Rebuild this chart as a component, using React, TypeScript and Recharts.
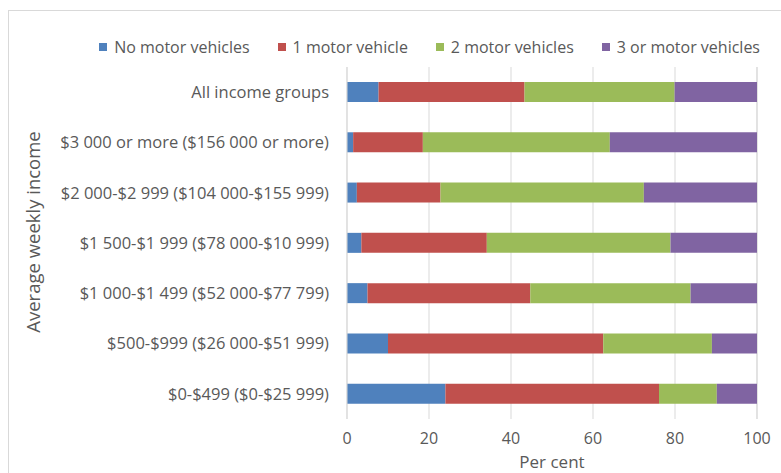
import React from "react";
import { BarChart, Bar, XAxis, YAxis, CartesianGrid } from "recharts";

const categories = [
  "All income groups",
  "$3 000 or more ($156 000 or more)",
  "$2 000-$2 999 ($104 000-$155 999)",
  "$1 500-$1 999 ($78 000-$10 999)",
  "$1 000-$1 499 ($52 000-$77 799)",
  "$500-$999 ($26 000-$51 999)",
  "$0-$499 ($0-$25 999)",
];

const noVehicles = [7.7, 1.5, 2.4, 3.5, 5.0, 10.0, 24.0];
const oneVehicle = [35.6, 17.0, 20.4, 30.6, 39.7, 52.5, 52.1];
const twoVehicles = [36.6, 45.6, 49.6, 44.8, 39.1, 26.5, 14.1];
const threeVehicles = [20.1, 35.9, 27.6, 21.1, 16.2, 11.0, 9.8];

const xTicks = [0, 20, 40, 60, 80, 100];

const SERIES = [
  { key: "none", name: "No motor vehicles", color: "#4F81BD" },
  { key: "one", name: "1 motor vehicle", color: "#C0504D" },
  { key: "two", name: "2 motor vehicles", color: "#9BBB59" },
  { key: "three", name: "3 or motor vehicles", color: "#8064A2" },
];

const data = categories.map((c, i) => ({
  cat: c,
  none: noVehicles[i],
  one: oneVehicle[i],
  two: twoVehicles[i],
  three: threeVehicles[i],
}));

const FONT = "'Open Sans', sans-serif";
const TEXT = "#595959";

// legend sits above the plot, outside the chart's own layout
const LegendBox = () => (
  <div style={{ position: "absolute", top: 36, right: 21, display: "flex", gap: 28, fontFamily: FONT, fontSize: 16, color: TEXT, whiteSpace: "nowrap" }}>
    {SERIES.map((s) => (
      <div key={s.key} style={{ display: "flex", alignItems: "center", gap: 7 }}>
        <span style={{ width: 8, height: 8, background: s.color, display: "inline-block" }} />
        <span>{s.name}</span>
      </div>
    ))}
  </div>
);

const YLabel = () => (
  <text x={32} y={232} transform="rotate(-90 32 232)" textAnchor="middle" dominantBaseline="central" fontSize={18.5} fill={TEXT} fontFamily={FONT}>
    Average weekly income
  </text>
);

export default function App() {
  return (
    <div style={{ position: "absolute", left: 0, top: 0, width: 781, height: 473, background: "#fff", overflow: "hidden" }}>
      <div style={{ position: "absolute", left: 8, top: 10, width: 900, height: 600, border: "1px solid #d9d9d9" }} />
      <BarChart
        width={781}
        height={473}
        data={data}
        layout="vertical"
        barSize={20}
        margin={{ top: 67, right: 24, bottom: 0, left: 0 }}
        style={{ position: "absolute", left: 0, top: 0 }}
      >
        <CartesianGrid horizontal={false} stroke="#d9d9d9" />
        <XAxis
          type="number"
          domain={[0, 100]}
          ticks={xTicks}
          height={54}
          axisLine={false}
          tickLine={false}
          tickMargin={8}
          tick={{ fontSize: 16, fill: TEXT, fontFamily: FONT }}
          label={{ value: "Per cent", position: "insideBottom", offset: 5, fontSize: 17, fill: TEXT, fontFamily: FONT }}
        />
        <YAxis
          type="category"
          dataKey="cat"
          width={347}
          axisLine={{ stroke: "#d9d9d9" }}
          tickLine={false}
          tick={{ fontSize: 16.5, fill: TEXT, fontFamily: FONT }}
          tickMargin={12}
          label={<YLabel />}
        />
        {SERIES.map((s) => (
          <Bar key={s.key} dataKey={s.key} name={s.name} stackId="a" fill={s.color} isAnimationActive={false} />
        ))}
      </BarChart>
      <LegendBox />
    </div>
  );
}
